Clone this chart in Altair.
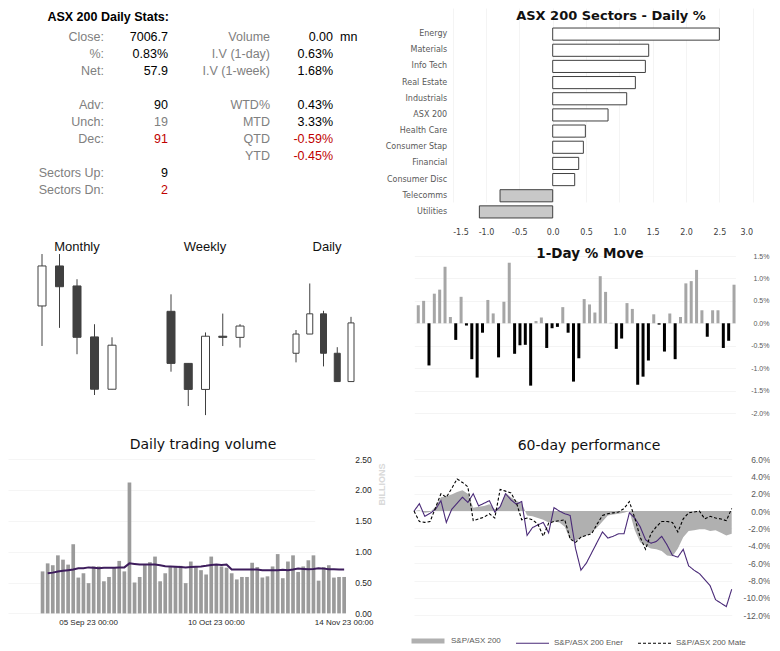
import altair as alt
import pandas as pd

# ---------------- data ----------------
stats_title = "ASX 200 Daily Stats:"
stat_labels_1 = ["Close:", "%:", "Net:", "", "Adv:", "Unch:", "Dec:", "", "Sectors Up:", "Sectors Dn:"]
stat_values_1 = ["7006.7", "0.83%", "57.9", "", "90", "19", "91", "", "9", "2"]
stat_tones_1 = ["up", "up", "up", "", "up", "flat", "down", "", "up", "down"]
stat_labels_2 = ["Volume", "I.V (1-day)", "I.V (1-week)", "", "WTD%", "MTD", "QTD", "YTD"]
stat_values_2 = ["0.00", "0.63%", "1.68%", "", "0.43%", "3.33%", "-0.59%", "-0.45%"]
stat_units_2 = ["mn", "", "", "", "", "", "", ""]
stat_tones_2 = ["up", "up", "up", "", "up", "up", "down", "down"]

sectors = ["Energy", "Materials", "Info Tech", "Real Estate", "Industrials", "ASX 200",
           "Health Care", "Consumer Stap", "Financial", "Consumer Disc", "Telecomms", "Utilities"]
sector_moves = [2.50, 1.44, 1.39, 1.24, 1.11, 0.83, 0.49, 0.46, 0.39, 0.33, -0.79, -1.10]

monthly_open = [7211, 7419, 7315, 7050, 6778]
monthly_high = [7481, 7481, 7350, 7116, 7048]
monthly_low = [7003, 7097, 6960, 6748, 6778]
monthly_close = [7419, 7311, 7048, 6778, 7007]

weekly_open = [7046, 6908, 6839, 6980, 6977]
weekly_high = [7091, 6908, 6990, 7040, 7012]
weekly_low = [6886, 6795, 6771, 6954, 6950]
weekly_close = [6908, 6839, 6980, 6977, 7007]

daily_open = [6977, 6996, 7016, 6977, 6949]
daily_high = [7000, 7046, 7019, 6983, 7013]
daily_low = [6968, 6996, 6964, 6949, 6949]
daily_close = [6996, 7016, 6977, 6949, 7007]

daily_moves = [0.40, 0.50, -0.94, 0.66, 0.75, 1.26, 0.14, -0.37, 0.59, -0.05,
               -0.80, -1.21, -0.21, 0.52, 0.22, -0.76, 0.48, 1.35, -0.68, -0.49,
               -0.48, -1.39, 0.05, 0.13, -0.55, -0.11, -0.08, 0.36, -0.21, -1.30,
               -0.78, 0.54, 0.42, 0.24, 1.05, 0.70, 0.01, -0.57, -0.34, 0.45,
               0.32, -1.37, -1.19, -0.83, 0.20, -0.03, -0.63, 0.22, -0.80, 0.14,
               0.89, 0.94, 1.19, 0.29, -0.30, 0.29, 0.29, -0.55, -0.39, 0.86]

volumes = [0.68, 0.81, 0.78, 0.94, 0.87, 0.79, 1.12, 0.58, 0.65, 0.49,
           0.76, 0.76, 0.52, 0.59, 0.74, 0.85, 0.68, 2.12, 0.50, 0.59,
           0.80, 0.83, 0.92, 0.52, 0.65, 0.75, 0.76, 0.77, 0.49, 0.84,
           0.75, 0.70, 0.63, 0.92, 0.80, 0.76, 0.74, 0.65, 0.55, 0.59,
           0.59, 0.82, 0.75, 0.58, 0.60, 0.76, 0.96, 0.57, 0.84, 0.94,
           0.67, 0.76, 0.86, 0.94, 0.53, 0.75, 0.78, 0.58, 0.59, 0.59]
volume_avg = [None, 0.65, 0.66, 0.68, 0.69, 0.70, 0.71, 0.73, 0.73, 0.745,
              0.74, 0.73, 0.74, 0.74, 0.74, 0.745, 0.745, 0.81, 0.80, 0.79,
              0.79, 0.79, 0.79, 0.78, 0.765, 0.76, 0.755, 0.75, 0.745, 0.75,
              0.755, 0.76, 0.77, 0.785, 0.79, 0.785, 0.79, 0.71, 0.71, 0.71,
              0.71, 0.71, 0.71, 0.70, 0.70, 0.70, 0.70, 0.705, 0.70, 0.71,
              0.725, 0.72, 0.715, 0.72, 0.73, 0.725, 0.715, 0.715, 0.71, 0.71]
volume_ticks = ["05 Sep 23 00:00", "10 Oct 23 00:00", "14 Nov 23 00:00"]

perf_names = ["S&P/ASX 200", "S&P/ASX 200 Ener", "S&P/ASX 200 Mate"]
perf_asx = [0.0, 0.1, -0.2, -0.1, 0.5, 1.6, 1.7, 1.9, 2.2, 2.4,
            2.0, 0.4, 0.5, 0.6, 0.8, 0.2, 0.5, 2.1, 1.6, 1.2,
            0.9, -0.5, -0.6, -0.8, -1.0, -1.3, -1.2, -1.3, -1.8, -3.3,
            -3.4, -3.1, -2.8, -2.5, -1.9, -1.2, -0.5, -0.4, -0.3, -0.2,
            0.0, -2.2, -3.6, -4.0, -4.3, -4.4, -4.6, -5.1, -5.2, -4.3,
            -3.0, -2.3, -2.2, -2.1, -2.1, -2.3, -2.2, -2.5, -2.8, -2.6]
perf_energy = [0.0, 0.85, -0.6, -0.25, 0.2, 1.2, -1.3, 0.2, 0.9, 1.6,
               1.0, 2.0, 0.6, 0.9, 1.2, -0.1, 0.5, 2.0, 1.3, 0.8,
               1.1, -2.8, -1.9, -1.6, -1.3, -2.5, 0.4, 0.0, -0.3, -0.5,
               -4.3, -6.8, -6.0, -4.8, -3.6, -2.4, -3.1, -2.9, -2.6, -2.6,
               -0.2, -0.8, -1.8, -3.3, -3.7, -3.5, -2.9, -3.9, -5.1, -5.3,
               -4.4, -6.3, -6.8, -7.2, -7.9, -8.6, -10.2, -10.6, -11.0, -9.0]
perf_materials = [0.0, -1.2, -1.3, -1.2, 0.4, 2.0, 1.6, 2.6, 3.7, 3.3,
                  2.8, -1.1, -0.9, -0.7, -0.3, -0.8, 2.5, 2.3, 2.1, 1.0,
                  -1.0, -0.8, -1.0, -1.5, -2.9, -1.4, -1.2, -1.1, -1.0, -3.2,
                  -3.6, -3.0, -2.8, -2.6, -1.5, -0.5, -0.3, -0.2, -0.1, 0.3,
                  1.1, -0.8, -3.0, -4.4, -2.6, -1.8, -1.2, -1.2, -1.3, -2.4,
                  -0.9, -0.2, -0.1, 0.0, -0.9, -0.6, -0.8, -0.9, -1.1, 0.3]

vol_dates = [d.strftime("%d %b %y 00:00") for d in pd.bdate_range("2023-08-23", periods=60)]
day_dates = [d.strftime("%Y-%m-%d") for d in pd.bdate_range(end="2023-11-15", periods=60)]

# ---------------- styling ----------------
FONT = "Liberation Sans"
TFONT = "DejaVu Sans"
tone_colors = {"up": "#000000", "flat": "#808080", "down": "#c00000", "": "#000000"}
MINUS_FIX = "replace(format(datum.value, '.1f'), '\u2212', '-')"


def title_layer(text, x, y, bold, size):
    return alt.Chart(pd.DataFrame({"t": [text]})).mark_text(
        font=TFONT, fontSize=size, fontWeight="bold" if bold else "normal",
        color="#111111", align="center", baseline="middle"
    ).encode(text="t:N", x=alt.value(x), y=alt.value(y))


# ---------------- stats table ----------------
s1 = pd.DataFrame({"row": list(range(len(stat_labels_1))), "label": stat_labels_1,
                   "value": stat_values_1, "c": [tone_colors[t] for t in stat_tones_1]})
s2 = pd.DataFrame({"row": list(range(len(stat_labels_2))), "label": stat_labels_2,
                   "value": stat_values_2, "unit": stat_units_2,
                   "c": [tone_colors[t] for t in stat_tones_2]})
row_y = alt.Y("row:O", axis=None, scale=alt.Scale(type="point", range=[29, 182], padding=0))
txt = dict(font=FONT, fontSize=12.5, baseline="middle")
lab1 = alt.Chart(s1).mark_text(align="right", color="#808080", **txt).encode(
    x=alt.value(96), y=row_y, text="label:N")
val1 = alt.Chart(s1).mark_text(align="right", **txt).encode(
    x=alt.value(160), y=row_y, text="value:N", color=alt.Color("c:N", scale=None))
lab2 = alt.Chart(s2).mark_text(align="right", color="#808080", **txt).encode(
    x=alt.value(262), y=row_y, text="label:N")
val2 = alt.Chart(s2).mark_text(align="right", **txt).encode(
    x=alt.value(325), y=row_y, text="value:N", color=alt.Color("c:N", scale=None))
unit2 = alt.Chart(s2).mark_text(align="left", color="#000000", **txt).encode(
    x=alt.value(332), y=row_y, text="unit:N")
stitle = alt.Chart(pd.DataFrame({"t": [stats_title]})).mark_text(
    font=FONT, fontSize=12.5, fontWeight="bold", align="right", baseline="middle", color="#000000"
).encode(text="t:N", x=alt.value(161), y=alt.value(9))
stats_chart = alt.layer(stitle, lab1, val1, lab2, val2, unit2).properties(width=372, height=193)


# ---------------- candles (three panels in one view) ----------------
def candle_panel(title, opens, highs, lows, closes, ydomain, xrange, body, title_x):
    df = pd.DataFrame({"n": list(range(1, len(opens) + 1)), "open": opens, "high": highs,
                       "low": lows, "close": closes})
    df["fillc"] = ["#ffffff" if c >= o else "#404040" for o, c in zip(opens, closes)]
    x = alt.X("n:Q", axis=None, scale=alt.Scale(domain=[1, len(opens)], range=xrange, nice=False, zero=False))
    ysc = alt.Scale(domain=ydomain, nice=False, zero=False)
    wick = alt.Chart(df).mark_rule(color="#404040", strokeWidth=1).encode(
        x=x, y=alt.Y("low:Q", axis=None, scale=ysc), y2="high:Q")
    bodies = alt.Chart(df).mark_bar(size=body, stroke="#404040", strokeWidth=1).encode(
        x=x, y=alt.Y("open:Q", axis=None, scale=ysc), y2="close:Q",
        fill=alt.Fill("fillc:N", scale=None))
    ttl = alt.Chart(pd.DataFrame({"t": [title]})).mark_text(
        font=FONT, fontSize=13, color="#111111", align="center", baseline="middle"
    ).encode(text="t:N", x=alt.value(title_x), y=alt.value(7))
    return alt.layer(wick, bodies, ttl)


monthly = candle_panel("Monthly", monthly_open, monthly_high, monthly_low, monthly_close,
                       [6618, 7554], [29, 109], 8, 69)
weekly = candle_panel("Weekly", weekly_open, weekly_high, weekly_low, weekly_close,
                      [6758, 7235], [158, 237], 8, 197)
daily = candle_panel("Daily", daily_open, daily_high, daily_low, daily_close,
                     [6911, 7089], [283, 348], 6, 319)
candles_chart = alt.layer(monthly, weekly, daily).resolve_scale(
    x="independent", y="independent").properties(width=372, height=180)

# ---------------- volume ----------------
vol_df = pd.DataFrame({"date": vol_dates, "volume": volumes, "avg": volume_avg})
vx = alt.X("date:O", title=None, scale=alt.Scale(domain=vol_dates, range=[32, 338.7],
                                                   paddingInner=0.28, paddingOuter=0.14),
           axis=alt.Axis(values=volume_ticks, labelAngle=0, ticks=False, domain=False,
                         labelFont=FONT, labelFontSize=8, labelColor="#262626", labelPadding=5,
                         labelOverlap=False))
vaxis = alt.Axis(orient="right", values=[0, 0.5, 1.0, 1.5, 2.0, 2.5], format=".2f", title="BILLIONS",
                 titleColor="#d9d9d9", titleFont=FONT, titleFontSize=9, titleFontWeight="bold",
                 titleAngle=270, titleAlign="right", titleBaseline="middle", titleX=35, titleY=4,
                 ticks=False, domain=False, grid=True, gridColor="#f5f5f5", labelFont=FONT,
                 labelFontSize=8.5, labelColor="#262626", labelPadding=8)
vsc = alt.Scale(domain=[0, 2.5], nice=False)
vbars = alt.Chart(vol_df).mark_bar(color="#9b9b9b").encode(
    x=vx, y=alt.Y("volume:Q", scale=vsc, axis=vaxis))
vline = alt.Chart(vol_df).mark_line(color="#3d1c5c", strokeWidth=2).encode(
    x=vx, y=alt.Y("avg:Q", scale=vsc, axis=vaxis))
volume_chart = alt.layer(vbars, vline, title_layer("Daily trading volume", 195, -14, False, 14)
                         ).properties(width=338.7, height=154.4)

# ---------------- sectors ----------------
sec_df = pd.DataFrame({"sector": sectors, "move": sector_moves})
sector_bars = alt.Chart(sec_df).mark_bar(stroke="#404040", strokeWidth=1).encode(
    y=alt.Y("sector:N", sort=sectors, title=None,
            scale=alt.Scale(range=[18, 212], paddingInner=0.25, paddingOuter=0.125),
            axis=alt.Axis(orient="left", offset=-38.7, ticks=False, domain=False, labelPadding=6,
                          labelFont=TFONT, labelFontSize=8, labelColor="#595959")),
    x=alt.X("move:Q", title=None,
            scale=alt.Scale(domain=[-1.5, 3.0], range=[38.7, 338.7], nice=False),
            axis=alt.Axis(values=[-1.5, -1.0, -0.5, 0, 0.5, 1.0, 1.5, 2.0, 2.5, 3.0],
                          labelExpr=MINUS_FIX, ticks=False, domain=False, grid=True,
                          gridColor="#f4f4f4", labelPadding=8, labelFont=TFONT, labelFontSize=8,
                          labelColor="#404040")),
    x2=alt.datum(0),
    fill=alt.condition("datum.move > 0", alt.value("#ffffff"), alt.value("#c8c8c8")),
)
sector_chart = alt.layer(sector_bars, title_layer("ASX 200 Sectors - Daily %", 197, 8, True, 13)
                         ).properties(width=338.7, height=212)

# ---------------- 1-day move ----------------
day_df = pd.DataFrame({"date": day_dates, "move": daily_moves})
oneday_bars = alt.Chart(day_df).mark_bar().encode(
    x=alt.X("date:O", axis=None,
            scale=alt.Scale(domain=day_dates, range=[1.6, 322.7], paddingInner=0.44, paddingOuter=0.22)),
    y=alt.Y("move:Q", title=None, scale=alt.Scale(domain=[-2, 1.5], range=[173, 16], nice=False),
            axis=alt.Axis(orient="right", values=[-2, -1.5, -1, -0.5, 0, 0.5, 1, 1.5],
                          labelExpr=MINUS_FIX + " + '%'", labelAlign="right", labelPadding=32,
                          ticks=False, domain=False, grid=True, gridColor="#f4f4f4",
                          labelFont=FONT, labelFontSize=7, labelColor="#595959")),
    y2=alt.datum(0),
    color=alt.condition("datum.move >= 0", alt.value("#a6a6a6"), alt.value("#000000")),
)
oneday_chart = alt.layer(oneday_bars, title_layer("1-Day % Move", 176, 14, True, 13.5)
                         ).properties(width=323, height=199)

# ---------------- 60-day performance ----------------
perf_df = pd.DataFrame({"date": vol_dates, "asx": perf_asx})
perf_long = pd.DataFrame({"date": vol_dates + vol_dates,
                          "series": [perf_names[1]] * len(perf_energy) + [perf_names[2]] * len(perf_materials),
                          "value": perf_energy + perf_materials})
px = alt.X("date:O", axis=None, scale=alt.Scale(type="point", padding=0, domain=vol_dates))
paxis = alt.Axis(orient="right", values=list(range(-12, 7, 2)), labelExpr=MINUS_FIX + " + '%'",
                 labelAlign="right", labelPadding=38.3, ticks=False, domain=False, grid=True,
                 gridColor="#f5f5f5", labelFont=FONT, labelFontSize=8.5, labelColor="#595959",
                 title=None)
psc = alt.Scale(domain=[-12, 6], nice=False)
legend = alt.Legend(title=None, orient="none", legendX=401, legendY=614, direction="horizontal",
                    symbolType="stroke", symbolSize=1089, labelFont=FONT, labelFontSize=8,
                    labelColor="#595959", columnPadding=12, labelOffset=4)
parea = alt.Chart(perf_df).mark_area(color="#b0b0b0").encode(
    x=px, y=alt.Y("asx:Q", scale=psc, axis=paxis), y2=alt.datum(0))
plines = alt.Chart(perf_long).mark_line().encode(
    x=px, y=alt.Y("value:Q", scale=psc, axis=paxis),
    color=alt.Color("series:N", scale=alt.Scale(domain=perf_names, range=["#b0b0b0", "#4a2a78", "#000000"]),
                    legend=legend),
    strokeDash=alt.StrokeDash("series:N", scale=alt.Scale(domain=perf_names, range=[[1, 0], [1, 0], [3, 2]]),
                              legend=legend),
    strokeWidth=alt.StrokeWidth("series:N", scale=alt.Scale(type="ordinal", domain=perf_names, range=[5, 1.1, 1.1]),
                                legend=legend),
)
perf_chart = alt.layer(parea, plines, title_layer("60-day performance", 175, -13, False, 14)
                       ).properties(width=317.7, height=156.3)

# ---------------- layout (single grid, flush bounds) ----------------
chart = alt.concat(stats_chart, sector_chart, candles_chart, oneday_chart, volume_chart, perf_chart,
                   columns=2, spacing={"row": 20, "column": 34}, bounds="flush").properties(
    padding=0, background="white"
).configure_view(stroke=None)

chart.save("out.html", embed_options={"renderer": "svg", "actions": False})
